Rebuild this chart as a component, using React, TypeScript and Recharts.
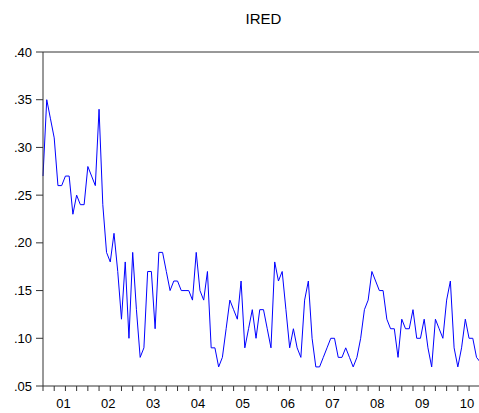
import { LineChart, Line, XAxis, YAxis, ReferenceLine } from 'recharts';

// monthly observations, 2001M01 onward
const y2001 = [0.27, 0.35, 0.33, 0.31, 0.26, 0.26, 0.27, 0.27, 0.23, 0.25, 0.24, 0.24];
const y2002 = [0.28, 0.27, 0.26, 0.34, 0.24, 0.19, 0.18, 0.21, 0.17, 0.12, 0.18, 0.1];
const y2003 = [0.19, 0.13, 0.08, 0.09, 0.17, 0.17, 0.11, 0.19, 0.19, 0.17, 0.15, 0.16];
const y2004 = [0.16, 0.15, 0.15, 0.15, 0.14, 0.19, 0.15, 0.14, 0.17, 0.09, 0.09, 0.07];
const y2005 = [0.08, 0.11, 0.14, 0.13, 0.12, 0.16, 0.09, 0.11, 0.13, 0.1, 0.13, 0.13];
const y2006 = [0.11, 0.09, 0.18, 0.16, 0.17, 0.13, 0.09, 0.11, 0.09, 0.08, 0.14, 0.16];
const y2007 = [0.1, 0.07, 0.07, 0.08, 0.09, 0.1, 0.1, 0.08, 0.08, 0.09, 0.08, 0.07];
const y2008 = [0.08, 0.1, 0.13, 0.14, 0.17, 0.16, 0.15, 0.15, 0.12, 0.11, 0.11, 0.08];
const y2009 = [0.12, 0.11, 0.11, 0.13, 0.1, 0.1, 0.12, 0.09, 0.07, 0.12, 0.11, 0.1];
const y2010 = [0.14, 0.16, 0.09, 0.07, 0.09, 0.12, 0.1, 0.1, 0.08, 0.075];

const yearLabels = ['01', '02', '03', '04', '05', '06', '07', '08', '09', '10'];
const yTicks = [0.05, 0.1, 0.15, 0.2, 0.25, 0.3, 0.35, 0.4];

const values = [...y2001, ...y2002, ...y2003, ...y2004, ...y2005, ...y2006, ...y2007, ...y2008, ...y2009, ...y2010];
const data = values.map((v, i) => ({ t: i, ired: v }));

// quarter tick marks; year label drawn under the July tick
const quarterTicks: number[] = [];
for (let q = 0; q <= 117; q += 3) quarterTicks.push(q);

const FONT = 'Liberation Sans, Arial, sans-serif';

function YearTick(props: any) {
  const { x, y, payload } = props;
  const v = payload.value;
  if (v % 12 !== 6) return <g />;
  const label = yearLabels[Math.floor(v / 12)];
  return (
    <text x={x - 2} y={y + 15} textAnchor="middle" fontSize={13} fontFamily={FONT} fill="#000">
      {label}
    </text>
  );
}

export default function App() {
  return (
    <div style={{ position: 'absolute', left: 0, top: 0, width: 479, height: 413, overflow: 'hidden', background: '#fff' }}>
      <div
        style={{
          position: 'absolute',
          left: 43,
          width: 441,
          top: 11,
          lineHeight: '15px',
          fontSize: 15,
          fontFamily: FONT,
          textAlign: 'center',
          color: '#000',
        }}
      >
        IRED
      </div>
      <LineChart width={490} height={413} data={data} margin={{ top: 52, right: 6, bottom: 0, left: 0 }}>
        <XAxis
          dataKey="t"
          type="number"
          domain={[0, 118]}
          ticks={quarterTicks}
          interval={0}
          height={27}
          tickSize={5}
          tickMargin={2}
          stroke="#333"
          tick={<YearTick />}
        />
        <YAxis
          type="number"
          domain={[0.05, 0.4]}
          ticks={yTicks}
          width={43}
          tickSize={7}
          tickMargin={4}
          stroke="#333"
          tick={{ fontSize: 13, fontFamily: FONT, fill: '#000' }}
          tickFormatter={(v: number) => v.toFixed(2).replace(/^0/, '')}
          allowDataOverflow
        />
        <ReferenceLine y={0.4} stroke="#333" />
        <Line
          type="linear"
          dataKey="ired"
          stroke="#0000ff"
          strokeWidth={1}
          dot={false}
          isAnimationActive={false}
        />
      </LineChart>
    </div>
  );
}
